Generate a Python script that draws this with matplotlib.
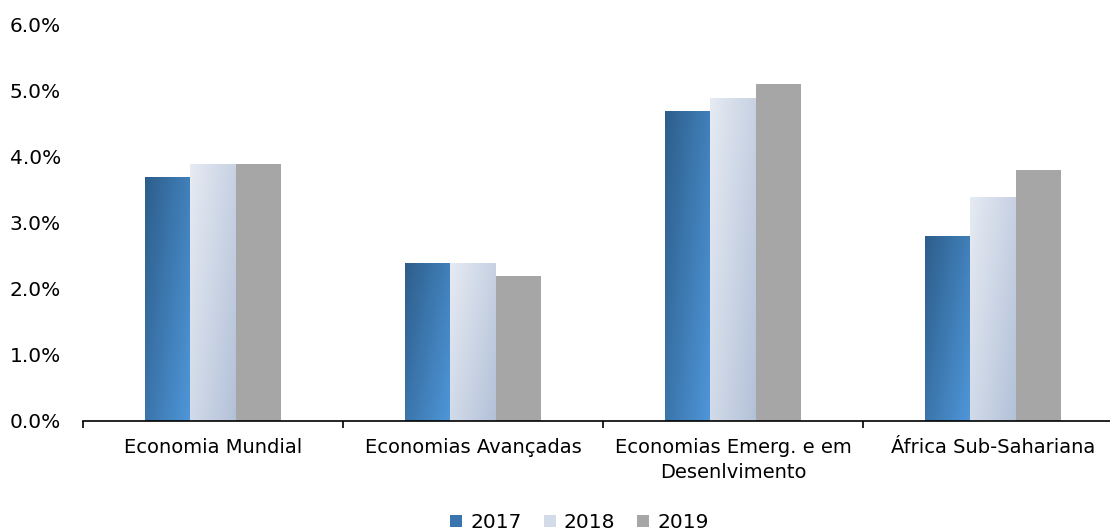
import numpy as np
import matplotlib.pyplot as plt
from matplotlib.colors import LinearSegmentedColormap
from matplotlib.patches import Patch
from matplotlib.ticker import FuncFormatter, MultipleLocator

categories = ["Economia Mundial", "Economias Avançadas",
              "Economias Emerg. e em\nDesenlvimento", "África Sub-Sahariana"]
years = ["2017", "2018", "2019"]
v2017 = [3.7, 2.4, 4.7, 2.8]
v2018 = [3.9, 2.4, 4.9, 3.4]
v2019 = [3.9, 2.2, 5.1, 3.8]

# gradient colours (top-left -> bottom-right), None = solid
grad = [("#2d5e8b", "#4f97da"), ("#e6ebf3", "#b3c1d8"), None]
solid = ["#3f7fbd", "#cfd7e6", "#a6a6a6"]

fig = plt.figure(figsize=(11.10, 5.31), dpi=100)
ax = fig.add_axes([83 / 1110, 1 - 421 / 531, 1040 / 1110, 396 / 531])

x = np.arange(len(categories))
w = 0.175
series = [v2017, v2018, v2019]

# diagonal gradient image
gx, gy = np.meshgrid(np.linspace(0, 1, 60), np.linspace(0, 1, 200))
diag = (gx * 0.6 + gy * 0.4)

for i, vals in enumerate(series):
    bars = ax.bar(x + (i - 1) * w, vals, w, color=solid[i], edgecolor="none", zorder=2)
    if grad[i] is not None:
        cmap = LinearSegmentedColormap.from_list("g%d" % i, list(grad[i]))
        for b in bars:
            x0, y0 = b.get_x(), b.get_y()
            im = ax.imshow(diag, cmap=cmap, aspect="auto", origin="upper",
                           extent=[x0, x0 + b.get_width(), y0, y0 + b.get_height()],
                           zorder=3, interpolation="bilinear")
            im.set_clip_path(b)

ax.set_xlim(-0.5, len(categories) - 0.5)
ax.set_ylim(0, 6)
ax.yaxis.set_major_locator(MultipleLocator(1))
ax.yaxis.set_major_formatter(FuncFormatter(lambda v, p: "%.1f%%" % v))

ax.set_xticks(x)
ax.set_xticklabels(categories, fontsize=14, linespacing=1.4)
ax.set_xticks(np.arange(len(categories) + 1) - 0.5, minor=True)
ax.tick_params(axis="x", which="major", length=0, pad=12)
ax.tick_params(axis="x", which="minor", length=5, width=1.2, direction="out")
ax.tick_params(axis="y", length=0, pad=16, labelsize=14.5)

for s in ["top", "right", "left"]:
    ax.spines[s].set_visible(False)
ax.spines["bottom"].set_linewidth(1.2)
ax.spines["bottom"].set_zorder(4)

handles = [Patch(facecolor=c, edgecolor="none") for c in ["#3a74ad", "#d3dbe9", "#a6a6a6"]]
fig.legend(handles, years, loc="center", bbox_to_anchor=(0.522, 0.016), ncol=3,
           frameon=False, fontsize=14.5, handlelength=0.6, handleheight=0.6,
           handletextpad=0.4, columnspacing=1.1)

fig.savefig("out.png", dpi=100)
